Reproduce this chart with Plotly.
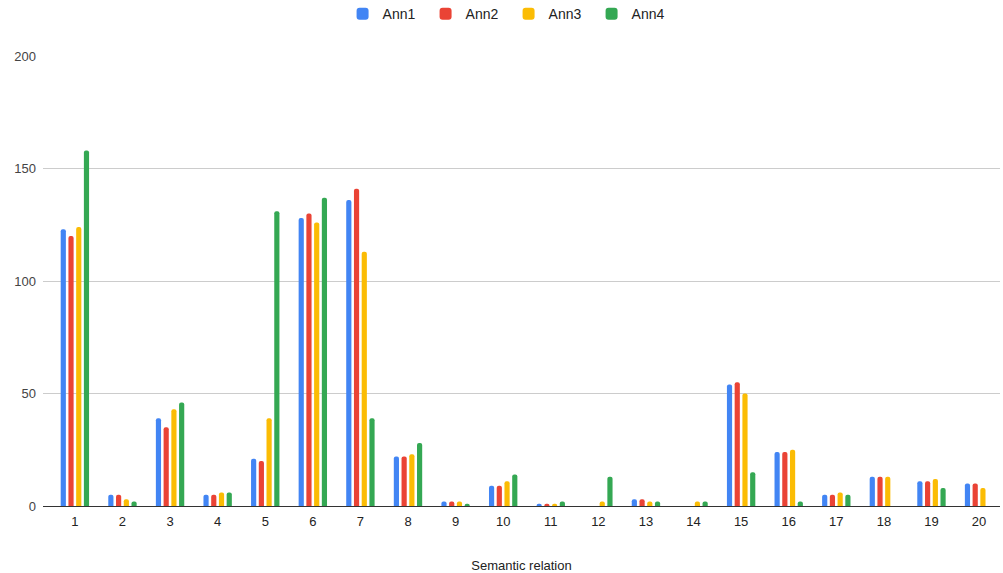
import plotly.graph_objects as go

categories = list(range(1, 21))
ann1 = [123, 5, 39, 5, 21, 128, 136, 22, 2, 9, 1, 0, 3, 0, 54, 24, 5, 13, 11, 10]
ann2 = [120, 5, 35, 5, 20, 130, 141, 22, 2, 9, 1, 0, 3, 0, 55, 24, 5, 13, 11, 10]
ann3 = [124, 3, 43, 6, 39, 126, 113, 23, 2, 11, 1, 2, 2, 2, 50, 25, 6, 13, 12, 8]
ann4 = [158, 2, 46, 6, 131, 137, 39, 28, 1, 14, 2, 13, 2, 2, 15, 2, 5, 0, 8, 0]

series = [("Ann1", ann1, "#4285F4"), ("Ann2", ann2, "#EA4335"),
          ("Ann3", ann3, "#FBBC04"), ("Ann4", ann4, "#34A853")]

fig = go.Figure()
for name, vals, color in series:
    fig.add_trace(go.Bar(x=categories, y=vals, name=name,
                         marker=dict(color=color, line_width=0, cornerradius=3)))

fig.update_layout(
    width=1003, height=573,
    margin=dict(l=43, r=3, t=56, b=67, autoexpand=False),
    paper_bgcolor="white", plot_bgcolor="white",
    barmode="group", bargap=0.35, bargroupgap=0.33,
    font=dict(family="Liberation Sans, Arial, sans-serif", size=13, color="#222222"),
    legend=dict(orientation="h", x=0.4865, xanchor="center", y=1.093, yanchor="middle",
                font=dict(size=14, color="#222222"), entrywidth=38, entrywidthmode="pixels"),
    xaxis=dict(range=[0.33, 20.44], tickmode="array", tickvals=categories,
               ticktext=[str(c) for c in categories], showgrid=False, automargin=False,
               showline=True, linecolor="#333333", linewidth=1, ticks="",
               tickfont=dict(size=13, color="#222222"), ticklabelstandoff=3,
               title=dict(text="Semantic relation", font=dict(size=13, color="#222222"), standoff=35)),
    yaxis=dict(range=[0, 200], tickvals=[0, 50, 100, 150, 200], showgrid=True, automargin=False,
               gridcolor="#cccccc", gridwidth=1, zeroline=False, showline=False,
               ticks="", tickfont=dict(size=13, color="#444444"), ticklabelstandoff=6),
)

# remove the browser's default 8px body margin so the figure sits at the page origin
fig.write_html("out.html", config={"displayModeBar": False},
               post_script="document.body.style.margin='0';document.body.style.overflow='hidden';")
